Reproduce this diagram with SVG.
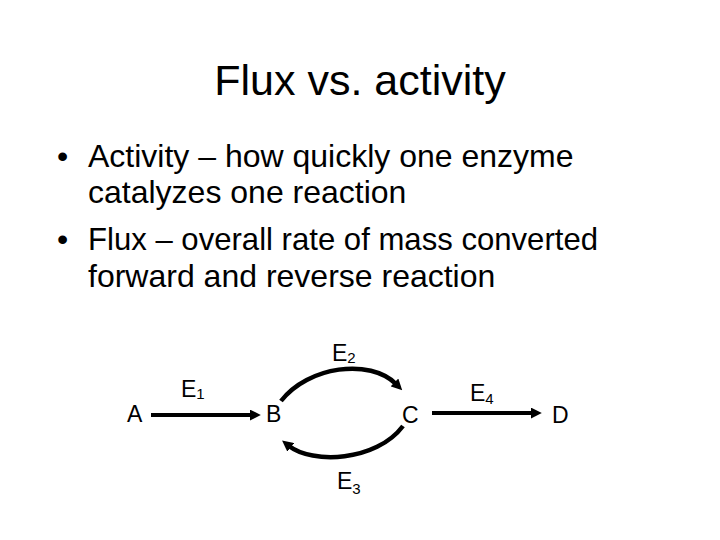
<svg xmlns="http://www.w3.org/2000/svg" width="720" height="540" viewBox="0 0 720 540">
<style>
text{font-family:"Liberation Sans",Arial,sans-serif;fill:#000}
.title{font-size:43px}
.body{font-size:32px}
.lbl{font-size:23px}
.sub{font-size:15px}
.conn{fill:none;stroke:#000;stroke-width:4}
.arc{stroke-width:4.5}
</style>
<defs>
<marker id="ah" markerUnits="userSpaceOnUse" markerWidth="11" markerHeight="11" viewBox="0 0 10 10" refX="2" refY="5" orient="auto">
<path d="M0,0 L10,5 L0,10 z" fill="#000"/>
</marker>
</defs>
<rect width="720" height="540" fill="#fff"/>
<text class="title" x="360" y="95" text-anchor="middle">Flux vs. activity</text>
<g id="bullets" class="body">
<text x="57" y="167">•</text>
<text x="88" y="167">Activity – how quickly one enzyme</text>
<text x="88" y="203">catalyzes one reaction</text>
<text x="57" y="250">•</text>
<text x="88" y="250" textLength="510" lengthAdjust="spacingAndGlyphs">Flux – overall rate of mass converted</text>
<text x="88" y="287">forward and reverse reaction</text>
</g>
<g id="connectors">
<path class="conn" d="M151,415 L252,415" marker-end="url(#ah)"/>
<path class="conn" d="M432,413 L533,413" marker-end="url(#ah)"/>
<path class="conn arc" d="M281,401 C308,366 370,358 396,384" marker-end="url(#ah)"/>
<path class="conn arc" d="M403,426 C376,462 312,464 289,446" marker-end="url(#ah)"/>
<text class="lbl" x="181" y="397">E<tspan class="sub" dy="2">1</tspan></text>
<text class="lbl" x="332" y="361">E<tspan class="sub" dy="2">2</tspan></text>
<text class="lbl" x="337" y="489">E<tspan class="sub" dy="5">3</tspan></text>
<text class="lbl" x="470" y="401">E<tspan class="sub" dy="3">4</tspan></text>
</g>
<g id="A"><text class="lbl" x="127" y="422">A</text></g>
<g id="B"><text class="lbl" x="266" y="422">B</text></g>
<g id="C"><text class="lbl" x="402" y="423">C</text></g>
<g id="D"><text class="lbl" x="552" y="423">D</text></g>
</svg>
